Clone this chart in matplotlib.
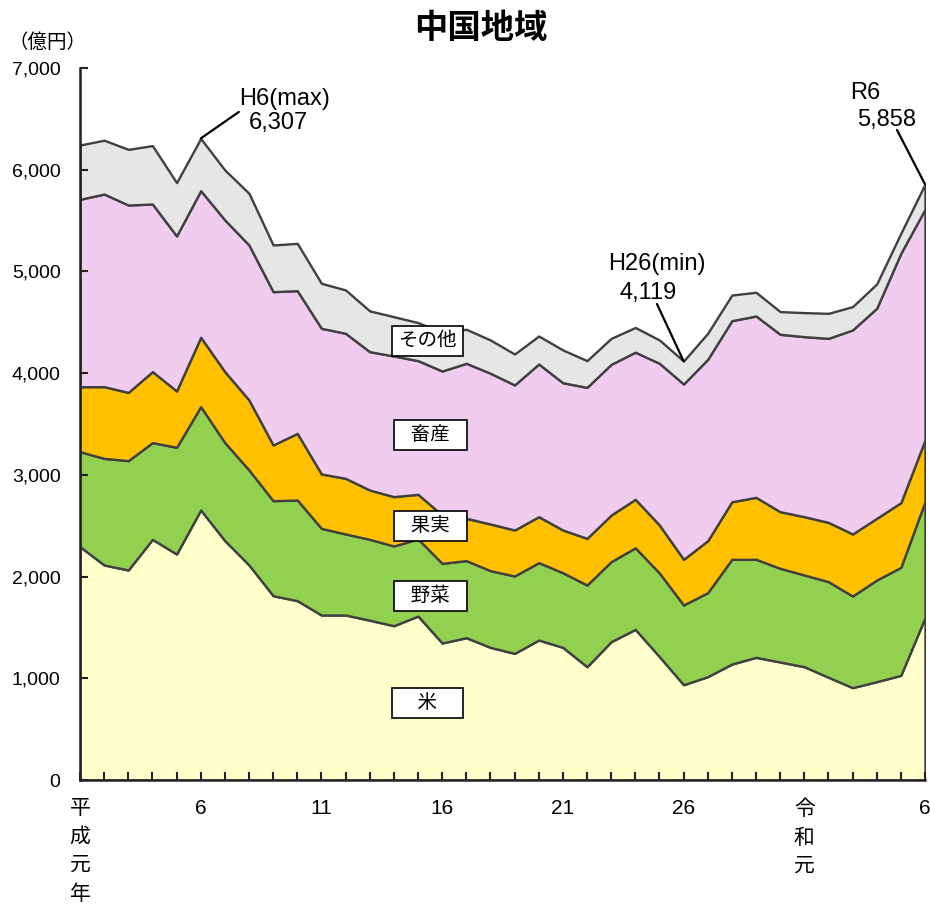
import matplotlib.pyplot as plt
import numpy as np

plt.rcParams['font.family'] = ['Liberation Sans', 'Noto Sans CJK JP', 'DejaVu Sans']

# years: 平成元年 (1989) .. 令和6年 (2024)
years = list(range(36))

# cumulative tops (億円)
rice_top = [2294, 2114, 2065, 2366, 2222, 2655, 2353, 2114, 1812, 1763, 1622, 1622,
            1571, 1517, 1612, 1347, 1399, 1304, 1245, 1376, 1304, 1114, 1360, 1481,
            1213, 937, 1016, 1140, 1206, 1160, 1114, 1010, 908, 967, 1029, 1596]
veg_top = [3228, 3162, 3140, 3317, 3271, 3671, 3317, 3048, 2746, 2753, 2474, 2419,
           2366, 2301, 2370, 2130, 2157, 2058, 2006, 2137, 2038, 1917, 2147, 2283,
           2035, 1721, 1842, 2170, 2170, 2081, 2016, 1950, 1809, 1966, 2091, 2736]
fruit_top = [3867, 3867, 3811, 4015, 3825, 4353, 4015, 3736, 3294, 3408, 3009, 2966,
             2851, 2786, 2809, 2605, 2573, 2517, 2458, 2589, 2458, 2376, 2605, 2760,
             2507, 2170, 2353, 2736, 2779, 2638, 2589, 2533, 2419, 2573, 2727, 3343]
live_top = [5709, 5761, 5653, 5663, 5349, 5794, 5506, 5260, 4801, 4811, 4441, 4392,
            4211, 4169, 4123, 4021, 4097, 3999, 3884, 4090, 3906, 3860, 4087, 4206,
            4097, 3893, 4136, 4516, 4562, 4382, 4359, 4342, 4425, 4638, 5179, 5611]
total = [6243, 6290, 6200, 6237, 5873, 6307, 5997, 5768, 5260, 5276, 4883, 4818,
         4612, 4555, 4497, 4400, 4431, 4326, 4188, 4365, 4228, 4123, 4342, 4449,
         4326, 4119, 4392, 4768, 4795, 4605, 4595, 4588, 4654, 4877, 5375, 5858]

# individual items
rice = np.array(rice_top)
veg = np.array(veg_top) - np.array(rice_top)
fruit = np.array(fruit_top) - np.array(veg_top)
livestock = np.array(live_top) - np.array(fruit_top)
other = np.array(total) - np.array(live_top)

names = ['　米　', '  野菜  ', '  果実  ', '  畜産  ', 'その他']
colors = ['#FFFFCC', '#92D050', '#FFC000', '#F0CDEE', '#E6E6E6']
label_pos = [(14.4, 757), (14.5, 1809), (14.5, 2497), (14.5, 3392), (14.4, 4316)]

fig = plt.figure(figsize=(9.3, 9.09), dpi=100)
ax = fig.add_axes([0.086, 0.1419, 0.9086, 0.7833])

ax.stackplot(years, rice, veg, fruit, livestock, other, colors=colors,
             edgecolor='#404040', linewidth=1.7)

for name, (lx, ly) in zip(names, label_pos):
    ax.text(lx, ly, name, ha='center', va='center', fontsize=14,
            bbox=dict(boxstyle='square,pad=0.32', fc='white', ec='black', lw=1.2))

# max / min / latest annotations
ax.annotate('', xy=(5, total[5]), xytext=(6.58, 6568),
            arrowprops=dict(arrowstyle='-', color='black', lw=1.6, shrinkA=0, shrinkB=0))
ax.text(6.6, 6700, 'H6(max)', fontsize=17, ha='left', va='center')
ax.text(7.0, 6455, '{:,}'.format(total[5]), fontsize=17, ha='left', va='center')

ax.annotate('', xy=(25, total[25]), xytext=(23.9, 4680),
            arrowprops=dict(arrowstyle='-', color='black', lw=1.6, shrinkA=0, shrinkB=0))
ax.text(23.9, 5070, 'H26(min)', fontsize=17, ha='center', va='center')
ax.text(23.55, 4790, '{:,}'.format(total[25]), fontsize=17, ha='center', va='center')

ax.annotate('', xy=(35, total[35]), xytext=(33.84, 6391),
            arrowprops=dict(arrowstyle='-', color='black', lw=1.6, shrinkA=0, shrinkB=0))
ax.text(31.9, 6755, 'R6', fontsize=17, ha='left', va='center')
ax.text(32.2, 6490, '{:,}'.format(total[35]), fontsize=17, ha='left', va='center')

ax.set_xlim(0, 35)
ax.set_ylim(0, 7000)
ax.set_yticks(range(0, 7001, 1000))
ax.set_yticklabels(['{:,}'.format(v) for v in range(0, 7001, 1000)], fontsize=14)

xlabels = [''] * 36
xlabels[0] = '平\n成\n元\n年'
xlabels[5] = '6'
xlabels[10] = '11'
xlabels[15] = '16'
xlabels[20] = '21'
xlabels[25] = '26'
xlabels[30] = '令\n和\n元'
xlabels[35] = '6'
ax.set_xticks(years)
ax.set_xticklabels(xlabels, fontsize=15, linespacing=1.62, va='top')

ax.tick_params(axis='both', direction='in', length=6, width=1.5, color='#222222')
ax.tick_params(axis='y', pad=14)
ax.tick_params(axis='x', pad=14)
for side in ['top', 'right']:
    ax.spines[side].set_visible(False)
for side in ['left', 'bottom']:
    ax.spines[side].set_linewidth(1.8)
    ax.spines[side].set_color('#222222')

fig.text(0.517, 0.968, '中国地域', ha='center', va='center', fontsize=24, weight='bold')
fig.text(0.051, 0.953, '（億円）', ha='center', va='center', fontsize=14)

fig.savefig('out.png', dpi=100)
